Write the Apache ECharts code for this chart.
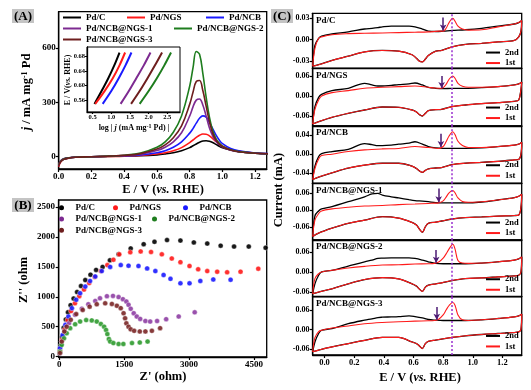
<!DOCTYPE html>
<html><head><meta charset="utf-8">
<script src="https://cdn.jsdelivr.net/npm/echarts@6/dist/echarts.min.js"></script>
<style>html,body{margin:0;padding:0;background:#fff}#c{width:531px;height:390px}</style>
</head><body><div id="c"></div>
<script>
// ---------- Panel A: linear sweep curves ----------
const E_A = [0,0.01,0.03,0.06,0.1,0.2,0.3,0.4,0.5,0.6,0.65,0.7,0.75,0.8,0.82,0.84,0.86,0.88,0.9,0.92,0.94,0.96,0.98,1.0,1.05,1.1,1.2,1.28];
const A_PdC   = [-40,-25,-12,-6,-3,-1,1,3,5,10,15,22,33,50,60,70,80,86,88,85,78,68,58,50,37,28,19,15];
const A_NGS   = [-55,-32,-15,-8,-3,-1,1,3,7,15,22,33,50,78,92,106,118,125,124,115,100,84,70,58,40,30,20,16];
const A_NCB   = [-48,-28,-14,-7,-3,0,2,5,10,22,33,52,82,130,155,185,212,225,218,190,155,120,92,72,45,32,21,17];
const A_NGS1  = [-42,-26,-13,-7,-3,0,2,6,14,34,52,82,132,225,275,312,318,285,225,160,115,85,66,53,36,27,19,16];
const A_NGS2  = [-45,-28,-14,-7,-3,0,3,8,20,52,82,135,225,390,490,580,565,460,330,220,145,100,75,58,38,28,19,16];
const A_NGS3  = [-50,-30,-15,-8,-3,0,3,7,17,42,65,105,170,290,355,415,420,365,280,195,130,92,70,55,37,27,19,16];
const A_TICKS_Y = [0,300,600];
const A_TICKS_X = [0,0.2,0.4,0.6,0.8,1.0,1.2];

// inset (Tafel)
const TAFEL_E = [0.55,0.585,0.62,0.655,0.69];
const T_PdC  = [0.55,0.74,0.92,1.08,1.22];
const T_NGS  = [0.57,0.82,1.04,1.22,1.37];
const T_NCB  = [0.77,1.0,1.2,1.38,1.54];
const T_NGS1 = [1.25,1.47,1.67,1.87,2.05];
const T_NGS2 = [1.76,2.0,2.22,2.42,2.6];
const T_NGS3 = [1.53,1.76,1.97,2.17,2.36];
const T_TICKS_X = [0.5,1.0,1.5,2.0,2.5];
const T_TICKS_Y = [0.56,0.60,0.64,0.68];

// ---------- Panel B: Nyquist ----------
const B_PdC_x = [10,30,60,100,150,200,260,330,410,500,600,720,850,1000,1170,1370,1650,1950,2200,2490,2800,3110,3420,3730,4040,4380,4770];
const B_PdC_y = [60,180,330,480,620,740,860,970,1080,1180,1280,1370,1450,1500,1610,1710,1810,1880,1920,1950,1940,1910,1890,1855,1840,1840,1820];
const B_NGS_x = [15,60,120,190,270,360,460,570,690,820,960,1110,1250,1385,1640,1880,2120,2370,2600,2800,3010,3210,3420,3650,3880,4190,4600];
const B_NGS_y = [100,280,450,610,760,890,1010,1120,1230,1330,1430,1530,1620,1710,1745,1760,1750,1710,1640,1580,1515,1460,1430,1420,1410,1420,1470];
const B_NCB_x = [15,77,140,210,290,390,480,600,710,830,980,1175,1420,1600,1830,2030,2220,2410,2570,2800,3010,3260,3560,3960];
const B_NCB_y = [140,360,530,670,810,950,1060,1170,1265,1340,1430,1500,1530,1520,1515,1475,1430,1365,1300,1225,1225,1265,1290,1285];
const B_NGS1_x = [15,55,120,225,363,520,670,830,940,1100,1240,1370,1470,1550,1600,1650,1720,1790,1870,1990,2100,2260,2470,2760,3130];
const B_NGS1_y = [60,250,420,560,700,800,875,930,975,1010,1015,995,960,920,865,800,725,670,630,595,585,595,625,670,740];
const B_NGS2_x = [15,55,108,170,250,365,480,620,750,865,960,1035,1080,1110,1145,1175,1250,1370,1480,1680,1860,2040];
const B_NGS2_y = [85,195,305,390,475,540,585,610,605,585,545,500,445,375,295,250,225,210,210,225,235,250];
const B_NGS3_x = [15,55,116,170,263,390,540,700,865,1060,1215,1330,1420,1485,1520,1550,1600,1650,1730,1860,1990,2140,2330];
const B_NGS3_y = [60,250,420,500,615,710,780,835,875,890,880,850,810,725,640,555,500,455,430,420,420,430,475];
const B_TICKS_X = [0,1500,3000,4500];
const B_TICKS_Y = [0,500,1000,1500,2000,2500];

// ---------- Panel C: CVs ----------
const E_UP  = [-0.08,-0.065,-0.04,-0.02,0.05,0.16,0.27,0.32,0.36,0.39,0.45,0.5,0.57,0.61,0.66,0.7,0.75,0.8,0.86,0.95,1.06,1.17,1.28,1.31,1.33];
const E_RED = [-0.08,-0.065,-0.04,-0.02,0.05,0.16,0.27,0.39,0.5,0.61,0.7,0.74,0.77,0.8,0.82,0.84,0.865,0.88,0.9,0.93,0.97,1.06,1.17,1.28,1.31,1.33];
const E_DN  = [1.33,1.325,1.31,1.28,1.17,1.06,0.95,0.86,0.79,0.75,0.7,0.68,0.66,0.64,0.62,0.59,0.5,0.39,0.27,0.16,0.05,-0.04,-0.08];

const C_NAMES = ['Pd/C','Pd/NGS','Pd/NCB','Pd/NCB@NGS-1','Pd/NCB@NGS-2','Pd/NCB@NGS-3'];
const C_2ND_UP = [
 [-0.037,-0.008,0.002,0.005,0.008,0.011,0.015,0.016,0.017,0.018,0.019,0.019,0.019,0.018,0.015,0.012,0.0115,0.012,0.013,0.014,0.016,0.019,0.022,0.024,0.027],
 [-0.084,-0.032,-0.004,0.005,0.016,0.023,0.038,0.033,0.030,0.030,0.032,0.034,0.036,0.039,0.033,0.026,0.023,0.022,0.023,0.023,0.025,0.028,0.033,0.036,0.042],
 [-0.053,-0.025,-0.005,0.001,0.0055,0.010,0.022,0.020,0.018,0.018,0.019,0.021,0.023,0.026,0.021,0.016,0.013,0.012,0.012,0.012,0.013,0.016,0.019,0.021,0.025],
 [-0.092,-0.02,-0.003,0.004,0.012,0.029,0.046,0.056,0.058,0.052,0.046,0.042,0.036,0.033,0.031,0.029,0.026,0.025,0.025,0.025,0.028,0.035,0.043,0.048,0.055],
 [-0.066,-0.036,-0.01,0.0,0.005,0.018,0.031,0.036,0.041,0.042,0.043,0.043,0.043,0.041,0.036,0.031,0.026,0.025,0.025,0.025,0.027,0.031,0.036,0.040,0.046],
 [-0.068,-0.038,-0.012,-0.002,0.003,0.018,0.029,0.033,0.037,0.038,0.039,0.040,0.042,0.040,0.036,0.031,0.029,0.028,0.028,0.028,0.030,0.034,0.039,0.042,0.048]
];
const C_1ST_UP = [
 [-0.037,-0.012,0.002,0.004,0.007,0.0085,0.009,0.0095,0.010,0.0105,0.011,0.0115,0.012,0.012,0.016,0.024,0.030,0.026,0.019,0.015,0.0135,0.014,0.018,0.022,0.024,0.027],
 [-0.084,-0.04,-0.012,0.0,0.01,0.016,0.023,0.026,0.028,0.030,0.026,0.024,0.023,0.025,0.035,0.05,0.06,0.053,0.038,0.029,0.026,0.026,0.028,0.033,0.036,0.042],
 [-0.053,-0.03,-0.01,-0.003,0.0,0.0055,0.009,0.011,0.012,0.016,0.014,0.013,0.012,0.016,0.026,0.038,0.047,0.041,0.027,0.018,0.014,0.014,0.016,0.019,0.021,0.025],
 [-0.092,-0.035,-0.012,-0.003,0.004,0.010,0.014,0.016,0.019,0.021,0.023,0.024,0.025,0.032,0.045,0.06,0.068,0.06,0.042,0.03,0.027,0.029,0.035,0.043,0.048,0.055],
 [-0.066,-0.02,-0.005,0.0,0.005,0.012,0.017,0.021,0.022,0.024,0.025,0.026,0.03,0.042,0.055,0.07,0.084,0.07,0.035,0.027,0.026,0.027,0.031,0.036,0.040,0.046],
 [-0.068,-0.025,-0.006,-0.002,0.005,0.011,0.018,0.022,0.024,0.026,0.027,0.028,0.032,0.045,0.060,0.074,0.083,0.075,0.045,0.030,0.028,0.030,0.034,0.039,0.042,0.048]
];
const C_DN = [
 [0.027,0.012,0.004,-0.001,-0.003,-0.005,-0.0066,-0.010,-0.015,-0.016,-0.022,-0.027,-0.031,-0.030,-0.026,-0.021,-0.016,-0.015,-0.017,-0.023,-0.029,-0.035,-0.037],
 [0.042,0.02,-0.012,-0.016,-0.02,-0.023,-0.027,-0.032,-0.04,-0.041,-0.044,-0.052,-0.06,-0.056,-0.048,-0.042,-0.034,-0.033,-0.042,-0.052,-0.064,-0.077,-0.084],
 [0.025,0.0,-0.011,-0.012,-0.015,-0.017,-0.019,-0.022,-0.028,-0.029,-0.031,-0.034,-0.038,-0.035,-0.030,-0.025,-0.019,-0.019,-0.023,-0.029,-0.039,-0.048,-0.053],
 [0.055,0.01,-0.017,-0.019,-0.021,-0.024,-0.026,-0.031,-0.038,-0.042,-0.046,-0.058,-0.077,-0.066,-0.052,-0.043,-0.028,-0.023,-0.035,-0.046,-0.063,-0.08,-0.092],
 [0.046,0.0,-0.01,-0.012,-0.015,-0.018,-0.020,-0.026,-0.033,-0.036,-0.040,-0.046,-0.059,-0.052,-0.043,-0.036,-0.021,-0.017,-0.023,-0.036,-0.051,-0.061,-0.066],
 [0.048,0.0,-0.007,-0.009,-0.012,-0.015,-0.019,-0.024,-0.029,-0.032,-0.036,-0.043,-0.058,-0.050,-0.043,-0.038,-0.024,-0.024,-0.033,-0.043,-0.053,-0.063,-0.068]
];
const C_YMIN = [-0.040,-0.090,-0.061,-0.104,-0.075,-0.078];
const C_YMAX = [0.037,0.083,0.059,0.093,0.097,0.101];
const C_TICKS_Y = [[-0.03,0,0.03],[-0.06,0,0.06],[-0.04,0,0.04],[-0.06,0,0.06],[-0.06,0,0.06],[-0.06,0,0.06]];
const C_TICKS_X = [0,0.2,0.4,0.6,0.8,1.0,1.2];
const CO_PEAK_E = 0.865;
const ONSET_E = [0.80,0.79,0.785,0.77,0.753,0.757];
const ARROW_TOP = [0.031,0.060,0.043,0.075,0.067,0.069];
const ARROW_TIP = [0.013,0.024,0.015,0.027,0.028,0.030];

// ---------- build ----------
const FONT = 'Liberation Serif';
const COL = {c:'#000000', ngs:'#ff1a1a', ncb:'#1a1aff', n1:'#7d2a91', n2:'#1e7d1e', n3:'#6e1e1e'};
const zip = (xs, ys) => xs.map((x,i)=>[x, ys[i]]);
const lbl = (fs) => ({fontFamily:FONT, fontWeight:'bold', fontSize:fs, color:'#000'});

const C_TOPS = [13.3,68.3,126,183.3,240,296.7];
const C_BOT = 355;
const C_LEFT = 312.7, C_W = 209;

const grids = [
  {left:58.7, top:11.7, width:208, height:157.3},     // 0 A
  {left:87, top:47, width:93, height:65},             // 1 inset
  {left:58.7, top:200, width:208, height:157}         // 2 B
];
C_TOPS.forEach((t,i)=>{
  const b = i<5 ? C_TOPS[i+1] : C_BOT;
  grids.push({left:C_LEFT, top:t, width:C_W, height:b-t});
});
grids.forEach(g=>{g.show=true; g.borderColor='#000'; g.borderWidth=1.3; g.backgroundColor='transparent';});
grids[1].backgroundColor = '#fff';
grids[1].borderWidth = 1;

function valAxis(gi, min, max, ticks, fmt, fs, showLabel){
  return {type:'value', gridIndex:gi, min:min, max:max, splitLine:{show:false},
    axisLine:{show:true, onZero:false, lineStyle:{color:'#000', width:1.3}},
    axisTick:{show:true, inside:false, length:3, customValues:ticks, lineStyle:{color:'#000', width:1.2}},
    axisLabel:{show:showLabel!==false, customValues:ticks, formatter:fmt, margin:3, hideOverlap:false,
      showMinLabel:true, showMaxLabel:true, ...lbl(fs)}};
}
const xAxes = [], yAxes = [];
xAxes.push(valAxis(0, 0, 1.27, A_TICKS_X, v=>v.toFixed(1), 9));
yAxes.push(valAxis(0, -68, 800, A_TICKS_Y, v=>String(v), 9));
xAxes.push(valAxis(1, 0.35, 2.84, T_TICKS_X, v=>v.toFixed(1), 6.5));
yAxes.push(valAxis(1, 0.528, 0.705, T_TICKS_Y, v=>v.toFixed(2), 6.5));
xAxes.push(valAxis(2, -15, 4795, B_TICKS_X, v=>String(v), 9));
yAxes.push(valAxis(2, -8, 2620, B_TICKS_Y, v=>String(v), 9, false));
for (let i=0;i<6;i++){
  xAxes.push(valAxis(3+i, -0.08, 1.33, C_TICKS_X, v=>v.toFixed(1), 8.5, i===5));
  if (i<5) { xAxes[xAxes.length-1].axisTick.show = false; }
  yAxes.push(valAxis(3+i, C_YMIN[i], C_YMAX[i], C_TICKS_Y[i], null, 8, false));
}
xAxes[1].axisTick.length = 2; yAxes[1].axisTick.length = 2;
xAxes[1].axisLabel.margin = 2; yAxes[1].axisLabel.margin = 2;

const series = [];
const A_SETS = [['Pd/C',A_PdC,T_PdC,COL.c],['Pd/NGS',A_NGS,T_NGS,COL.ngs],['Pd/NCB',A_NCB,T_NCB,COL.ncb],
  ['Pd/NCB@NGS-1',A_NGS1,T_NGS1,COL.n1],['Pd/NCB@NGS-2',A_NGS2,T_NGS2,COL.n2],['Pd/NCB@NGS-3',A_NGS3,T_NGS3,COL.n3]];
A_SETS.forEach(s=>{
  series.push({name:s[0], type:'line', xAxisIndex:0, yAxisIndex:0, data:zip(E_A,s[1]), symbol:'none', smooth:0.4,
    lineStyle:{color:s[3], width:1.6}, itemStyle:{color:s[3]}, z:3});
});
A_SETS.forEach(s=>{
  series.push({name:s[0], type:'line', xAxisIndex:1, yAxisIndex:1, data:zip(s[2],TAFEL_E), symbol:'none', smooth:0.3,
    lineStyle:{color:s[3], width:2}, itemStyle:{color:s[3]}, z:5});
});
const B_SETS = [['Pd/C',B_PdC_x,B_PdC_y,COL.c],['Pd/NGS',B_NGS_x,B_NGS_y,COL.ngs],['Pd/NCB',B_NCB_x,B_NCB_y,COL.ncb],
  ['Pd/NCB@NGS-1',B_NGS1_x,B_NGS1_y,'#8e3ea3'],['Pd/NCB@NGS-2',B_NGS2_x,B_NGS2_y,'#2e9a2e'],['Pd/NCB@NGS-3',B_NGS3_x,B_NGS3_y,'#7a2626']];
B_SETS.forEach(s=>{
  series.push({name:s[0], type:'scatter', xAxisIndex:2, yAxisIndex:2, data:zip(s[1],s[2]), symbol:'circle', symbolSize:5,
    itemStyle:{color:s[3], opacity:0.9, borderColor:'rgba(255,255,255,0.5)', borderWidth:0.8}});
});
for (let i=0;i<6;i++){
  const xi = 3+i;
  series.push({name:'2nd', type:'line', xAxisIndex:xi, yAxisIndex:xi, data:zip(E_UP,C_2ND_UP[i]), symbol:'none', smooth:0.35,
    lineStyle:{color:'#000', width:1.3}, itemStyle:{color:'#000'}, z:2,
    markLine:{silent:true, symbol:['none','arrow'], symbolSize:[5,6], label:{show:false},
      lineStyle:{color:'#4b1a73', width:1.5, type:'solid'},
      data:[[{coord:[ONSET_E[i],ARROW_TOP[i]]},{coord:[ONSET_E[i],ARROW_TIP[i]]}]]}});
  series.push({name:'2nd', type:'line', xAxisIndex:xi, yAxisIndex:xi, data:zip(E_DN,C_DN[i]), symbol:'none', smooth:0.35,
    lineStyle:{color:'#000', width:1.3}, itemStyle:{color:'#000'}, z:2});
  series.push({name:'1st', type:'line', xAxisIndex:xi, yAxisIndex:xi, data:zip(E_DN,C_DN[i]), symbol:'none', smooth:0.35,
    lineStyle:{color:'#ff1a1a', width:1.1}, itemStyle:{color:'#ff1a1a'}, z:3});
  series.push({name:'1st', type:'line', xAxisIndex:xi, yAxisIndex:xi, data:zip(E_RED,C_1ST_UP[i]), symbol:'none', smooth:0.35,
    lineStyle:{color:'#ff1a1a', width:1.1}, itemStyle:{color:'#ff1a1a'}, z:3,
    markLine:{silent:true, symbol:'none', label:{show:false}, lineStyle:{color:'#9b30d0', width:1.5, type:[2,2]},
      data:[{xAxis:CO_PEAK_E}]}});
}

// legends
const legTxt = {fontFamily:FONT, fontWeight:'bold', fontSize:9, color:'#000'};
const lineLeg = {icon:'rect', itemWidth:18, itemHeight:2, textStyle:{...legTxt, lineHeight:11}};
const dotLeg = {icon:'circle', itemWidth:18, itemHeight:5, textStyle:{...legTxt, lineHeight:11.3}};
const legends = [
  {...lineLeg, left:63, top:12, orient:'vertical', itemGap:0, data:['Pd/C','Pd/NCB@NGS-1','Pd/NCB@NGS-3']},
  {...lineLeg, left:127, top:12, data:['Pd/NGS']},
  {...lineLeg, left:206, top:12, data:['Pd/NCB']},
  {...lineLeg, left:174, top:23, data:['Pd/NCB@NGS-2']},
  {...dotLeg, left:59, top:202, orient:'vertical', itemGap:0, data:['Pd/C','Pd/NCB@NGS-1','Pd/NCB@NGS-3']},
  {...dotLeg, left:113, top:202, data:['Pd/NGS']},
  {...dotLeg, left:183, top:202, data:['Pd/NCB']},
  {...dotLeg, left:152, top:213.3, data:['Pd/NCB@NGS-2']}
];
C_TOPS.forEach(t=>{
  legends.push({left:486, top:t+34, orient:'vertical', itemGap:0, icon:'rect', itemWidth:14, itemHeight:2,
    textStyle:{...legTxt, fontSize:8.5, lineHeight:10.5}, data:['2nd','1st']});
});
legends.forEach(l=>{l.selectedMode=false; l.padding=0;});

// graphics
const rich = {i:{fontStyle:'italic', fontFamily:FONT, fontWeight:'bold'}, s:{fontSize:8, verticalAlign:'top', fontFamily:FONT, fontWeight:'bold', padding:[0,0,5,0]}};
function txt(x,y,text,fs,rot,extraRich){
  return {type:'text', x:x, y:y, rotation:rot||0, z:50,
    style:{text:text, fontFamily:FONT, fontWeight:'bold', fontSize:fs, fill:'#000', align:'center', verticalAlign:'middle', rich:extraRich||rich}};
}
function panelLabel(x,y,t){
  return {type:'group', x:x, y:y, z:1, children:[
    {type:'rect', shape:{x:0,y:0,width:22,height:14}, style:{fill:'#c4c4c4'}},
    {type:'text', style:{x:11,y:7.5,text:t,fontFamily:FONT,fontWeight:'bold',fontSize:13,fill:'#000',align:'center',verticalAlign:'middle'}}]};
}
const richSmall = {i:{fontStyle:'italic', fontFamily:FONT, fontWeight:'bold', fontSize:8}, s:{fontSize:6, verticalAlign:'top', fontFamily:FONT, fontWeight:'bold', padding:[0,0,4,0]}};
const graphics = [
  panelLabel(12,9,'(A)'), panelLabel(12,198,'(B)'), panelLabel(271,9,'(C)'),
  txt(27,92,'{i|j} / mA mg{s|-1} Pd',12.5,Math.PI/2),
  txt(163,190,'E / V ({i|vs.} RHE)',12.5),
  txt(24,280,"Z'' (ohm",12.5,Math.PI/2),
  txt(163,377,"Z' (ohm)",12.5),
  txt(279,190,'Current (mA)',12.5,Math.PI/2),
  txt(420,378,'E / V ({i|vs.} RHE)',12.5),
  txt(68,80,'E / V({i|vs.} RHE)',8,Math.PI/2,richSmall),
  txt(134,128,'log | {i|j} (mA mg{s|-1} Pd) |',8,0,richSmall)
];
C_NAMES.forEach((n,i)=>{
  graphics.push({type:'text', x:316, y:C_TOPS[i]+2.5, z:50, style:{text:n, fontFamily:FONT, fontWeight:'bold', fontSize:9, fill:'#000', align:'left', verticalAlign:'top'}});
});

const chart = echarts.init(document.getElementById('c'), null, {renderer:'canvas'});
chart.setOption({animation:false, backgroundColor:'#fff', grid:grids, xAxis:xAxes, yAxis:yAxes, series:series, legend:legends, graphic:graphics});

// tick labels for B (y) and C (y) axes, positioned through the axes' own scales
const tickTexts = [];
B_TICKS_Y.forEach(v=>{
  const py = chart.convertToPixel({yAxisIndex:2}, v);
  tickTexts.push({type:'text', x:55, y:py, z:60, zlevel:1, style:{text:String(v), fontFamily:FONT, fontWeight:'bold', fontSize:9, fill:'#000', align:'right', verticalAlign:'middle'}});
});
for (let i=0;i<6;i++){
  C_TICKS_Y[i].forEach(v=>{
    const py = chart.convertToPixel({yAxisIndex:3+i}, v);
    tickTexts.push({type:'text', x:309.5, y:py, z:60, zlevel:1, style:{text:(Math.abs(v)<1e-9?0:v).toFixed(2), fontFamily:FONT, fontWeight:'bold', fontSize:8, fill:'#000', align:'right', verticalAlign:'middle'}});
  });
}
chart.setOption({graphic: graphics.concat(tickTexts)});
</script></body></html>
